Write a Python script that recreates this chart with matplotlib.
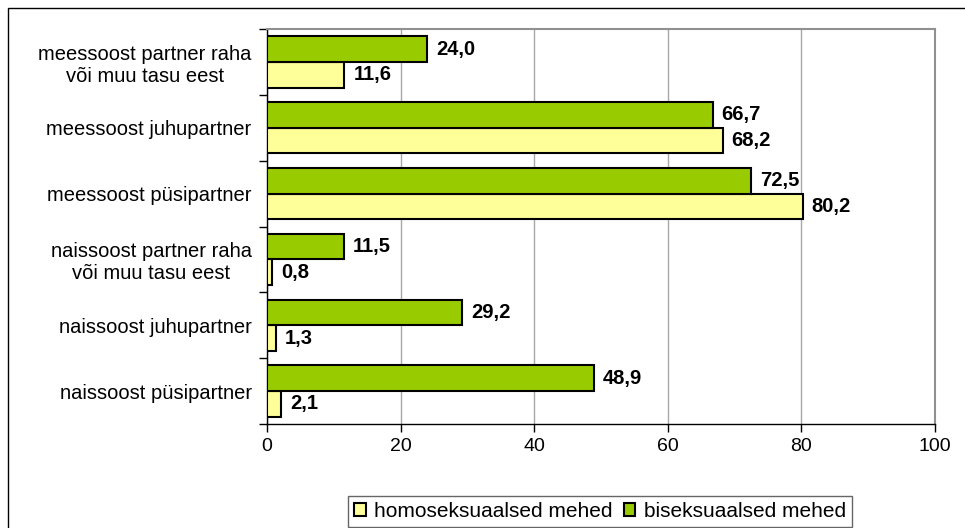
import matplotlib
matplotlib.use('Agg')
import matplotlib.pyplot as plt
from matplotlib.patches import Rectangle
import numpy as np

plt.rcParams['font.family'] = ['Liberation Sans', 'DejaVu Sans']

categories = ['naissoost püsipartner',
              'naissoost juhupartner',
              'naissoost partner raha\nvõi muu tasu eest',
              'meessoost püsipartner',
              'meessoost juhupartner',
              'meessoost partner raha\nvõi muu tasu eest']
homo = [2.1, 1.3, 0.8, 80.2, 68.2, 11.6]
bi = [48.9, 29.2, 11.5, 72.5, 66.7, 24.0]
xticks = [0, 20, 40, 60, 80, 100]

fig = plt.figure(figsize=(9.65, 5.28), dpi=100)
ax = fig.add_axes([267/965, 1 - 424/528, (935 - 267)/965, (424 - 29)/528])

y = np.arange(len(categories))
h = 0.39
ax.barh(y - h/2, homo, height=h, color='#FFFF99', edgecolor='black', linewidth=1.5,
        label='homoseksuaalsed mehed', zorder=3)
ax.barh(y + h/2, bi, height=h, color='#99CC00', edgecolor='black', linewidth=1.5,
        label='biseksuaalsed mehed', zorder=3)

def fmt(v):
    return f'{v:.1f}'.replace('.', ',')

for yi, v in zip(y, homo):
    ax.annotate(fmt(v), (v, yi - h/2), xytext=(9, 0), textcoords='offset pixels',
                va='center', ha='left', fontsize=14.5, fontweight='bold')
for yi, v in zip(y, bi):
    ax.annotate(fmt(v), (v, yi + h/2), xytext=(9, 0), textcoords='offset pixels',
                va='center', ha='left', fontsize=14.5, fontweight='bold')

ax.set_xlim(0, 100)
ax.set_ylim(-0.5, len(categories) - 0.5)
ax.set_xticks(xticks)
ax.set_xticklabels([str(t) for t in xticks], fontsize=14)
ax.set_yticks(y)
ax.set_yticklabels(categories, fontsize=14.5, multialignment='center')
ax.set_yticks(np.arange(len(categories) + 1) - 0.5, minor=True)
ax.tick_params(axis='y', which='major', length=0, pad=11)
ax.tick_params(axis='y', which='minor', length=6, width=1, direction='out')
ax.tick_params(axis='x', length=6, width=1, direction='out', pad=4)

ax.grid(axis='x', color='#a8a8a8', linewidth=1, zorder=0)
ax.spines['left'].set_color('black')
ax.spines['bottom'].set_color('black')
ax.spines['top'].set_color('#909090')
ax.spines['right'].set_color('#909090')
ax.spines['left'].set_linewidth(1)
ax.spines['bottom'].set_linewidth(1)
ax.spines['top'].set_linewidth(1.5)
ax.spines['right'].set_linewidth(1.5)

handles, labels = ax.get_legend_handles_labels()
leg = fig.legend(handles, labels, loc='lower center', bbox_to_anchor=(600/965, 1/528),
                 ncol=2, fontsize=15, frameon=True, fancybox=False,
                 edgecolor='#404040', handlelength=0.55, handleheight=0.55,
                 handletextpad=0.4, columnspacing=0.55, borderpad=0.3, borderaxespad=0)
leg.get_frame().set_linewidth(1)

fig.patches.append(Rectangle((8/965, -0.1), 1.1, 1 - 8/528 + 0.1, transform=fig.transFigure,
                             fill=False, edgecolor='black', linewidth=1))

fig.savefig('out.png', dpi=100)
